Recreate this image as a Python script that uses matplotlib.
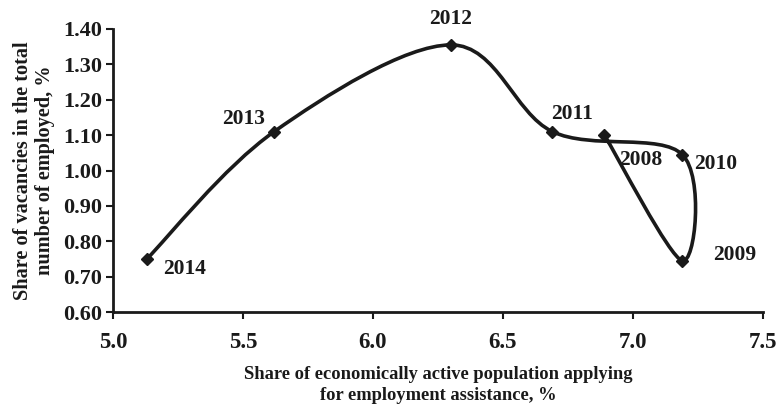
import numpy as np
import matplotlib
matplotlib.use("Agg")
from matplotlib import pyplot as plt
from matplotlib.path import Path
from matplotlib.patches import PathPatch

# data in chronological order (line is drawn in this order)
years = ["2008", "2009", "2010", "2011", "2012", "2013", "2014"]
applying = [6.89, 7.19, 7.19, 6.69, 6.30, 5.62, 5.13]
vacancies = [1.10, 0.745, 1.045, 1.11, 1.355, 1.11, 0.75]

# label offsets in points
offsets = {"2008": (26, -18), "2009": (38, 4), "2010": (24, -7), "2011": (14, 13),
           "2012": (0, 19), "2013": (-22, 9), "2014": (27, -7)}


def smooth_path(xs, ys, sx, sy):
    # excel-like smoothed line: catmull-rom converted to bezier segments
    p = np.column_stack([np.array(xs) / sx, np.array(ys) / sy])
    n = len(p)
    verts = [p[0]]
    codes = [Path.MOVETO]
    for i in range(n - 1):
        p0 = p[i - 1] if i > 0 else p[i]
        p3 = p[i + 2] if i + 2 < n else p[i + 1]
        c1 = p[i] + (p[i + 1] - p0) / 6.0
        c2 = p[i + 1] - (p3 - p[i]) / 6.0
        verts += [c1, c2, p[i + 1]]
        codes += [Path.CURVE4] * 3
    verts = np.array(verts) * np.array([sx, sy])
    return Path(verts, codes)


plt.rcParams['font.family'] = ['Liberation Serif', 'DejaVu Serif']
plt.rcParams['font.weight'] = 'bold'
dark = '#1a1a1a'

fig = plt.figure(figsize=(7.78, 4.08), dpi=100)
ax = fig.add_axes([0.1452, 0.235, 0.8355, 0.694])

path = smooth_path(applying, vacancies, 2.5, 0.8)
ax.add_patch(PathPatch(path, facecolor='none', edgecolor=dark, lw=2.6, capstyle='round'))
ax.plot(applying, vacancies, linestyle='none', marker='D', markersize=6.5, color=dark)

for yr, x, y in zip(years, applying, vacancies):
    ax.annotate(yr, (x, y), xytext=offsets[yr], textcoords='offset points',
                ha='center', va='center', fontsize=15.5, fontweight='bold', color=dark)

ax.set_xlim(5.0, 7.5)
ax.set_ylim(0.6, 1.4)
xt = np.arange(5.0, 7.51, 0.5)
yt = np.arange(0.6, 1.401, 0.1)
ax.set_xticks(xt)
ax.set_yticks(yt)
ax.set_xticklabels(["%.1f" % v for v in xt])
ax.set_yticklabels(["%.2f" % v for v in yt])
ax.tick_params(axis='both', width=1.5, length=5, direction='out', colors=dark)
ax.tick_params(axis='x', labelsize=16.5, pad=9)
ax.tick_params(axis='y', labelsize=16, pad=3)

for s in ['top', 'right']:
    ax.spines[s].set_visible(False)
for s in ['left', 'bottom']:
    ax.spines[s].set_linewidth(2)
    ax.spines[s].set_color(dark)

ax.set_xlabel("Share of economically active population applying\nfor employment assistance, %",
              fontsize=13.3, fontweight='bold', color=dark, labelpad=10, linespacing=1.25)
ax.set_ylabel("Share of vacancies in the total\nnumber of employed, %",
              fontsize=14.6, fontweight='bold', color=dark, labelpad=6, linespacing=1.1)

fig.savefig("out.png", dpi=100)
